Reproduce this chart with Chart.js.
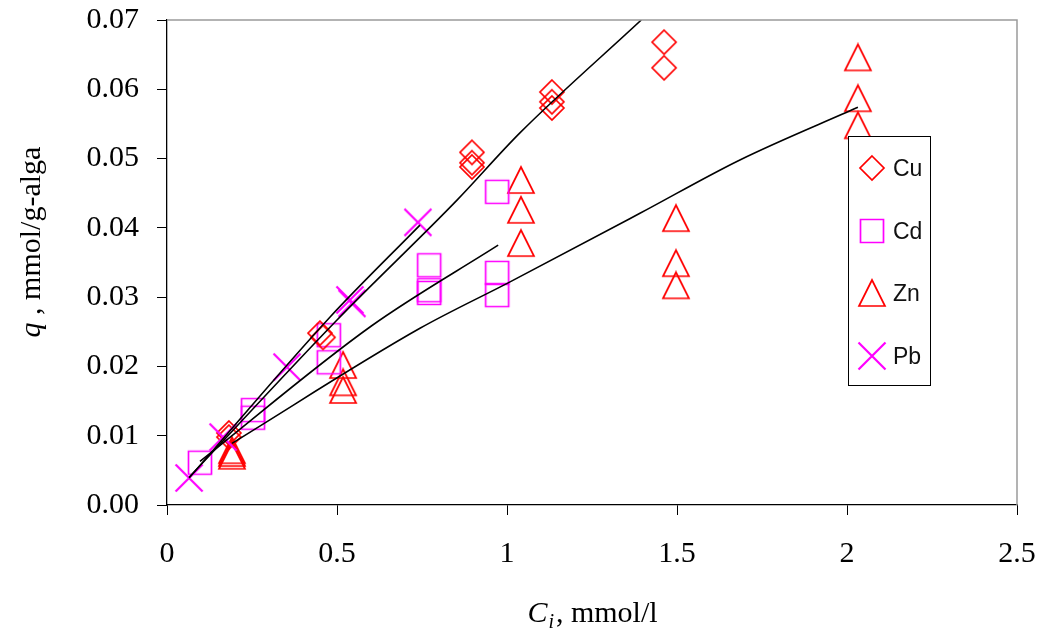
<!DOCTYPE html>
<html>
<head>
<meta charset="utf-8">
<title>Metal uptake vs initial concentration</title>
<script src="https://cdn.jsdelivr.net/npm/chart.js@4.4.1/dist/chart.umd.min.js"></script>
<style>
  html, body { margin: 0; padding: 0; background: #fff; }
  #wrap { width: 1043px; height: 634px; position: relative; }
</style>
</head>
<body>
<div id="wrap"><canvas id="uptakeChart" width="1043" height="634"></canvas></div>
<script>
// measured points, Ci (mmol/l) vs q (mmol/g-alga)
const cuX = [0.182, 0.182, 0.450, 0.459, 0.897, 0.897, 0.897, 1.132, 1.132, 1.132, 1.462, 1.462];
const cuY = [0.0104, 0.0098, 0.0248, 0.0242, 0.0509, 0.0494, 0.0488, 0.0596, 0.0582, 0.0573, 0.0668, 0.0631];

const cdX = [0.097, 0.253, 0.253, 0.476, 0.476, 0.771, 0.771, 0.771, 0.971, 0.971, 0.971];
const cdY = [0.0061, 0.0137, 0.0126, 0.0245, 0.0206, 0.0346, 0.0310, 0.0306, 0.0452, 0.0335, 0.0303];

const znX = [0.191, 0.191, 0.191, 0.518, 0.518, 0.518, 1.041, 1.041, 1.041, 1.497, 1.497, 1.497, 2.032, 2.032, 2.032];
const znY = [0.0079, 0.0075, 0.0071, 0.0202, 0.0177, 0.0166, 0.0469, 0.0426, 0.0378, 0.0414, 0.0349, 0.0317, 0.0646, 0.0587, 0.0548];

const pbX = [0.065, 0.165, 0.353, 0.538, 0.544, 0.738];
const pbY = [0.0039, 0.0098, 0.0199, 0.0296, 0.0291, 0.0408];

// model curves
const cuFitX = [0.065, 0.500, 0.853, 1.038, 1.395];
const cuFitY = [0.0040, 0.0267, 0.0440, 0.0537, 0.0700];
const cdFitX = [0.097, 0.600, 0.974];
const cdFitY = [0.0063, 0.0258, 0.0375];
const znFitX = [0.191, 0.744, 1.009, 1.391, 1.685, 2.032];
const znFitY = [0.0089, 0.0255, 0.0322, 0.0421, 0.0498, 0.0574];
const pbFitX = [0.065, 0.479, 0.744];
const pbFitY = [0.0039, 0.0271, 0.0404];

const xTicks = [0, 0.5, 1, 1.5, 2, 2.5];
const yTicks = [0, 0.01, 0.02, 0.03, 0.04, 0.05, 0.06, 0.07];

const RED = '#ff0000';
const MAGENTA = '#ff00ff';
const SERIF = '"Liberation Serif", "Times New Roman", serif';

function toPoints(xs, ys) {
    return xs.map((x, i) => ({ x: x, y: ys[i] }));
}

// marker images shared by the plot and the legend
function makeMarker(kind, color) {
    const c = document.createElement('canvas');
    c.width = 30;
    c.height = 30;
    const g = c.getContext('2d');
    g.strokeStyle = color;
    g.lineWidth = kind === 'x' ? 2.2 : 1.7;
    g.beginPath();
    if (kind === 'diamond') {
        g.moveTo(15, 3); g.lineTo(27, 15); g.lineTo(15, 27); g.lineTo(3, 15); g.closePath();
    } else if (kind === 'square') {
        g.rect(3.5, 3.5, 23, 23);
    } else if (kind === 'triangle') {
        g.moveTo(15, 2); g.lineTo(28, 28); g.lineTo(2, 28); g.closePath();
    } else {
        g.moveTo(1.5, 1.5); g.lineTo(28.5, 28.5);
        g.moveTo(28.5, 1.5); g.lineTo(1.5, 28.5);
    }
    g.stroke();
    return c;
}

const markers = {
    Cu: makeMarker('diamond', RED),
    Cd: makeMarker('square', MAGENTA),
    Zn: makeMarker('triangle', RED),
    Pb: makeMarker('x', MAGENTA)
};

function fitLine(label, xs, ys) {
    return {
        label: label,
        data: toPoints(xs, ys),
        showLine: true,
        borderColor: '#000',
        borderWidth: 1.6,
        pointRadius: 0,
        fill: false,
        cubicInterpolationMode: 'monotone'
    };
}

function markerSet(label, xs, ys) {
    return {
        label: label,
        data: toPoints(xs, ys),
        showLine: false,
        pointStyle: markers[label],
        pointRadius: 15,
        pointHoverRadius: 15
    };
}

// legend box, gray frame and axis titles
const decorations = {
    id: 'decorations',
    afterDatasetsDraw(chart) {
        const ctx = chart.ctx;
        const a = chart.chartArea;
        ctx.save();
        ctx.strokeStyle = '#9a9a9a';
        ctx.lineWidth = 1.5;
        ctx.beginPath();
        ctx.moveTo(a.left, a.top);
        ctx.lineTo(a.right, a.top);
        ctx.lineTo(a.right, a.bottom);
        ctx.stroke();

        // legend
        const lx = 848, ly = 136, lw = 82, lh = 249;
        ctx.fillStyle = '#fff';
        ctx.fillRect(lx, ly, lw, lh);
        ctx.strokeStyle = '#000';
        ctx.lineWidth = 1;
        ctx.strokeRect(lx + 0.5, ly + 0.5, lw, lh);
        const names = ['Cu', 'Cd', 'Zn', 'Pb'];
        const rows = [168, 231, 293, 356];
        ctx.font = '23px "Liberation Sans", Arial, sans-serif';
        ctx.fillStyle = '#111';
        ctx.textBaseline = 'middle';
        ctx.textAlign = 'left';
        names.forEach((n, i) => {
            ctx.drawImage(markers[n], 872 - 15, rows[i] - 15);
            ctx.fillText(n, 893, rows[i] + 2);
        });
        ctx.restore();
    },
    afterDraw(chart) {
        const ctx = chart.ctx;
        ctx.save();
        ctx.fillStyle = '#000';
        ctx.textBaseline = 'alphabetic';
        ctx.textAlign = 'left';

        // x title: C_i, mmol/l
        const big = '30px ' + SERIF;
        const bigIt = 'italic 30px ' + SERIF;
        const subIt = 'italic 20px ' + SERIF;
        ctx.font = bigIt; const wC = ctx.measureText('C').width;
        ctx.font = subIt; const wi = ctx.measureText('i').width + 2;
        ctx.font = big; const wRest = ctx.measureText(', mmol/l').width;
        let x = 592 - (wC + wi + wRest) / 2;
        const base = 622;
        ctx.font = bigIt; ctx.fillText('C', x, base); x += wC + 1;
        ctx.font = subIt; ctx.fillText('i', x, base + 6); x += wi;
        ctx.font = big; ctx.fillText(', mmol/l', x, base);

        // y title: q , mmol/g-alga
        ctx.translate(40, 242);
        ctx.rotate(-Math.PI / 2);
        ctx.font = bigIt; const wq = ctx.measureText('q').width;
        ctx.font = big; const wr = ctx.measureText(' , mmol/g-alga').width;
        let t = -(wq + wr) / 2;
        ctx.font = bigIt; ctx.fillText('q', t, 0); t += wq;
        ctx.font = big; ctx.fillText(' , mmol/g-alga', t, 0);
        ctx.restore();
    }
};

function createUptakeChart() {
    const ctx = document.getElementById('uptakeChart').getContext('2d');
    new Chart(ctx, {
        type: 'scatter',
        data: {
            datasets: [
                fitLine('Cu model', cuFitX, cuFitY),
                fitLine('Cd model', cdFitX, cdFitY),
                fitLine('Zn model', znFitX, znFitY),
                fitLine('Pb model', pbFitX, pbFitY),
                markerSet('Pb', pbX, pbY),
                markerSet('Cu', cuX, cuY),
                markerSet('Cd', cdX, cdY),
                markerSet('Zn', znX, znY)
            ]
        },
        options: {
            responsive: false,
            animation: false,
            layout: { padding: { left: 0, top: 20, right: 26, bottom: 0 } },
            plugins: {
                legend: { display: false },
                tooltip: { enabled: false }
            },
            scales: {
                x: {
                    type: 'linear',
                    min: 0,
                    max: 2.5,
                    afterFit: s => { s.height = 129; s.paddingLeft = 0; s.paddingRight = 0; },
                    afterBuildTicks: s => { s.ticks = xTicks.map(v => ({ value: v })); },
                    ticks: {
                        padding: 21,
                        color: '#000',
                        font: { family: SERIF, size: 30 },
                        callback: v => String(v)
                    },
                    grid: { drawOnChartArea: false, drawTicks: true, tickLength: 10, color: '#000' },
                    border: { color: '#000', width: 1.3 }
                },
                y: {
                    type: 'linear',
                    min: 0,
                    max: 0.07,
                    afterFit: s => { s.width = 167; s.paddingTop = 0; s.paddingBottom = 0; },
                    afterBuildTicks: s => { s.ticks = yTicks.map(v => ({ value: v })); },
                    ticks: {
                        padding: 18,
                        color: '#000',
                        font: { family: SERIF, size: 30 },
                        callback: v => v.toFixed(2)
                    },
                    grid: { drawOnChartArea: false, drawTicks: true, tickLength: 10, color: '#000' },
                    border: { color: '#000', width: 1.3 }
                }
            }
        },
        plugins: [decorations]
    });
}

createUptakeChart();
</script>
</body>
</html>
